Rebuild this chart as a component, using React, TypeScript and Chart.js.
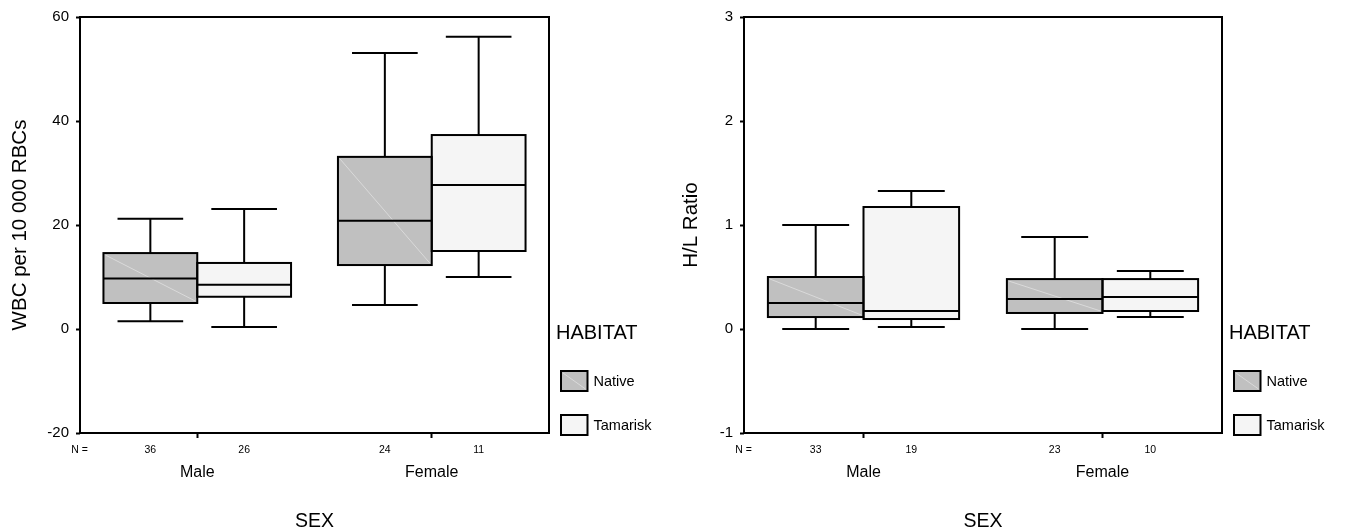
import React, { useEffect, useRef } from 'react';
import { Chart, registerables } from 'chart.js';

Chart.register(...registerables);

const FONT = '"Liberation Sans", Arial, Helvetica, sans-serif';

// ---------- data ----------
const categories = ['Male', 'Female'];
const habitats = ['Native', 'Tamarisk'];
const xTitle = 'SEX';
const legendTitle = 'HABITAT';

// Left panel: WBC per 10 000 RBCs
const wbcTitle = 'WBC per 10 000 RBCs';
const wbcTicks = { min: -20, max: 60, step: 20 };
const wbcNativeMin = [1.5, 4.6];
const wbcNativeQ1 = [5.0, 12.3];
const wbcNativeMed = [9.7, 20.8];
const wbcNativeQ3 = [14.6, 33.1];
const wbcNativeMax = [21.2, 53.1];
const wbcTamMin = [0.4, 10.0];
const wbcTamQ1 = [6.2, 15.0];
const wbcTamMed = [8.5, 27.7];
const wbcTamQ3 = [12.7, 37.3];
const wbcTamMax = [23.1, 56.2];
const wbcNativeN = [36, 24];
const wbcTamN = [26, 11];

// Right panel: H/L Ratio
const hlTitle = 'H/L Ratio';
const hlTicks = { min: -1, max: 3, step: 1 };
const hlNativeMin = [0.0, 0.0];
const hlNativeQ1 = [0.115, 0.154];
const hlNativeMed = [0.25, 0.288];
const hlNativeQ3 = [0.5, 0.48];
const hlNativeMax = [1.0, 0.885];
const hlTamMin = [0.019, 0.115];
const hlTamQ1 = [0.096, 0.173];
const hlTamMed = [0.173, 0.308];
const hlTamQ3 = [1.173, 0.48];
const hlTamMax = [1.327, 0.558];
const hlNativeN = [33, 23];
const hlTamN = [19, 10];

const nativeColor = '#c0c0c0';
const tamColor = '#f5f5f5';

type Stats = { min: number[]; q1: number[]; med: number[]; q3: number[]; max: number[]; n: number[] };

type PanelCfg = {
  yTitle: string;
  ticks: { min: number; max: number; step: number };
  series: Stats[];
  padLeft: number;
  yWidth: number;
};

const panels: PanelCfg[] = [
  {
    yTitle: wbcTitle,
    ticks: wbcTicks,
    series: [
      { min: wbcNativeMin, q1: wbcNativeQ1, med: wbcNativeMed, q3: wbcNativeQ3, max: wbcNativeMax, n: wbcNativeN },
      { min: wbcTamMin, q1: wbcTamQ1, med: wbcTamMed, q3: wbcTamQ3, max: wbcTamMax, n: wbcTamN },
    ],
    padLeft: 4,
    yWidth: 76,
  },
  {
    yTitle: hlTitle,
    ticks: hlTicks,
    series: [
      { min: hlNativeMin, q1: hlNativeQ1, med: hlNativeMed, q3: hlNativeQ3, max: hlNativeMax, n: hlNativeN },
      { min: hlTamMin, q1: hlTamQ1, med: hlTamMed, q3: hlTamQ3, max: hlTamMax, n: hlTamN },
    ],
    padLeft: 2,
    yWidth: 69,
  },
];

const W = 673;
const H = 531;

const boxPlugin = {
  id: 'boxExtras',
  afterDatasetsDraw(chart: any) {
    const ctx = chart.ctx as CanvasRenderingContext2D;
    const ys = chart.scales.y;
    const xs = chart.scales.x;
    const area = chart.chartArea;
    const series: Stats[] = chart.options.plugins.boxExtras.series;
    ctx.save();
    ctx.strokeStyle = '#000';
    ctx.lineWidth = 2;
    ctx.lineCap = 'butt';

    chart.data.datasets.forEach((ds: any, di: number) => {
      const st = series[di];
      const meta = chart.getDatasetMeta(di);
      meta.data.forEach((el: any, j: number) => {
        const cx = el.x;
        const w = el.width;
        const l = cx - w / 2;
        const r = cx + w / 2;
        const yMin = ys.getPixelForValue(st.min[j]);
        const yQ1 = ys.getPixelForValue(st.q1[j]);
        const yMed = ys.getPixelForValue(st.med[j]);
        const yQ3 = ys.getPixelForValue(st.q3[j]);
        const yMax = ys.getPixelForValue(st.max[j]);
        if (di === 0) {
          ctx.save();
          ctx.strokeStyle = '#dadada';
          ctx.lineWidth = 1;
          ctx.beginPath();
          ctx.moveTo(l + 2, yQ3 + 2);
          ctx.lineTo(r - 2, yQ1 - 2);
          ctx.stroke();
          ctx.restore();
        }
        // box outline
        ctx.strokeRect(l, yQ3, w, yQ1 - yQ3);
        // median
        ctx.beginPath();
        ctx.moveTo(l, yMed);
        ctx.lineTo(r, yMed);
        // whiskers
        ctx.moveTo(cx, yQ3);
        ctx.lineTo(cx, yMax);
        ctx.moveTo(cx, yQ1);
        ctx.lineTo(cx, yMin);
        const cw = w * 0.35;
        ctx.moveTo(cx - cw, yMax);
        ctx.lineTo(cx + cw, yMax);
        ctx.moveTo(cx - cw, yMin);
        ctx.lineTo(cx + cw, yMin);
        ctx.stroke();

        // N values
        ctx.save();
        ctx.fillStyle = '#000';
        ctx.font = `10.5px ${FONT}`;
        ctx.textAlign = 'center';
        ctx.textBaseline = 'alphabetic';
        ctx.fillText(String(st.n[j]), cx, area.bottom + 19.7);
        ctx.restore();
      });
    });

    // frame
    ctx.strokeRect(area.left, area.top, area.right - area.left, area.bottom - area.top);

    ctx.fillStyle = '#000';
    ctx.textBaseline = 'alphabetic';
    // N =
    ctx.font = `10.5px ${FONT}`;
    ctx.textAlign = 'center';
    ctx.fillText('N =', area.left - 0.5, area.bottom + 19.7);

    // category labels
    ctx.font = `16px ${FONT}`;
    chart.data.labels.forEach((lab: string, i: number) => {
      ctx.fillText(lab, xs.getPixelForValue(i), area.bottom + 44.3);
    });

    // x title
    ctx.font = `19.5px ${FONT}`;
    ctx.fillText(xTitle, (area.left + area.right) / 2, area.bottom + 93.7);

    // legend
    ctx.textAlign = 'left';
    ctx.font = `20px ${FONT}`;
    ctx.fillText(legendTitle, area.right + 7, 339.3);
    const boxTops = [371, 415];
    chart.data.datasets.forEach((ds: any, di: number) => {
      const bx = area.right + 12;
      const by = boxTops[di];
      ctx.fillStyle = ds.backgroundColor;
      ctx.fillRect(bx, by, 26.5, 20);
      if (di === 0) {
        ctx.save();
        ctx.strokeStyle = '#dadada';
        ctx.lineWidth = 1;
        ctx.beginPath();
        ctx.moveTo(bx + 2, by + 2);
        ctx.lineTo(bx + 24.5, by + 18);
        ctx.stroke();
        ctx.restore();
      }
      ctx.strokeStyle = '#000';
      ctx.lineWidth = 2;
      ctx.strokeRect(bx, by, 26.5, 20);
      ctx.fillStyle = '#000';
      ctx.font = `14.5px ${FONT}`;
      ctx.fillText(ds.label, bx + 26.5 + 6, by + 15.2);
    });

    ctx.restore();
  },
};

function Panel({ cfg }: { cfg: PanelCfg }) {
  const ref = useRef<HTMLCanvasElement | null>(null);
  useEffect(() => {
    if (!ref.current) return;
    const colors = [nativeColor, tamColor];
    const chart = new Chart(ref.current, {
      type: 'bar',
      data: {
        labels: categories,
        datasets: habitats.map((h, i) => ({
          label: h,
          data: categories.map((_, j) => [cfg.series[i].q1[j], cfg.series[i].q3[j]]),
          backgroundColor: colors[i],
          borderWidth: 0,
          categoryPercentage: 0.8,
          barPercentage: 1.0,
        })),
      },
      options: {
        responsive: false,
        animation: false,
        devicePixelRatio: 1,
        layout: { padding: { left: cfg.padLeft, right: 124, top: 17, bottom: 93 } },
        plugins: {
          legend: { display: false },
          tooltip: { enabled: false },
          boxExtras: { series: cfg.series },
        } as any,
        scales: {
          x: {
            type: 'category',
            offset: true,
            grid: {
              display: true,
              drawOnChartArea: false,
              drawTicks: true,
              tickLength: 5,
              tickWidth: 2,
              tickColor: '#000',
              offset: false,
            },
            border: { display: false },
            ticks: { display: false },
            afterFit: (s: any) => {
              s.height = 5;
            },
          },
          y: {
            min: cfg.ticks.min,
            max: cfg.ticks.max,
            grid: {
              display: true,
              drawOnChartArea: false,
              drawTicks: true,
              tickLength: 4,
              tickWidth: 2,
              tickColor: '#000',
            },
            border: { display: false },
            ticks: {
              stepSize: cfg.ticks.step,
              color: '#000',
              padding: 7,
              font: { family: FONT, size: 15 },
            },
            title: {
              display: true,
              text: cfg.yTitle,
              color: '#000',
              font: { family: FONT, size: 20.5 },
            },
            afterFit: (s: any) => {
              s.width = cfg.yWidth;
            },
          },
        },
      },
      plugins: [boxPlugin],
    } as any);
    return () => chart.destroy();
  }, [cfg]);
  return <canvas ref={ref} width={W} height={H} style={{ display: 'block', width: W, height: H }} />;
}

export default function App() {
  return (
    <div
      style={{
        position: 'absolute',
        left: 0,
        top: 0,
        width: 1346,
        height: 531,
        display: 'flex',
        background: '#fff',
      }}
    >
      {panels.map((p, i) => (
        <Panel key={i} cfg={p} />
      ))}
    </div>
  );
}
